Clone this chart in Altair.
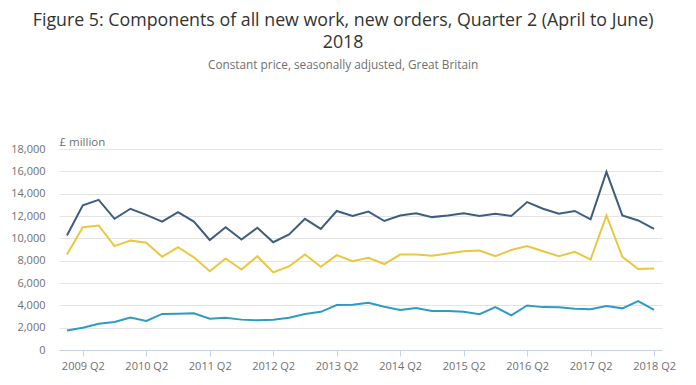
import altair as alt
import pandas as pd

quarters = [f"{y} Q{q}" for y in range(2009, 2019) for q in range(1, 5)][:38]
tick_labels = ["2009 Q2", "2010 Q2", "2011 Q2", "2012 Q2", "2013 Q2",
               "2014 Q2", "2015 Q2", "2016 Q2", "2017 Q2", "2018 Q2"]

all_new_work = [10250, 12950, 13450, 11750, 12650, 12100, 11500, 12350, 11500, 9850,
                11000, 9900, 10950, 9650, 10350, 11750, 10850, 12450, 12000, 12400,
                11550, 12050, 12250, 11900, 12050, 12250, 12000, 12200, 12000, 13250,
                12650, 12200, 12450, 11700, 15950, 12050, 11600, 10850]
other_new_work = [8550, 11000, 11150, 9300, 9800, 9600, 8350, 9200, 8300, 7050,
                  8200, 7200, 8400, 6950, 7500, 8550, 7450, 8500, 7950, 8250,
                  7700, 8550, 8550, 8450, 8650, 8850, 8900, 8400, 8950, 9300,
                  8850, 8400, 8800, 8100, 12050, 8350, 7250, 7300]
infrastructure = [1750, 2000, 2350, 2500, 2900, 2600, 3230, 3250, 3280, 2800,
                  2880, 2720, 2660, 2710, 2880, 3230, 3420, 4020, 4050, 4230,
                  3880, 3580, 3760, 3500, 3500, 3430, 3200, 3840, 3100, 3990,
                  3840, 3820, 3700, 3640, 3930, 3730, 4370, 3600]

series = ["All new work", "Other new work", "Infrastructure"]
colors = ["#3e5d7f", "#ebc73f", "#2e9bc2"]

rows = []
for name, vals in zip(series, [all_new_work, other_new_work, infrastructure]):
    for q, v in zip(quarters, vals):
        rows.append({"quarter": q, "value": v, "series": name})
df = pd.DataFrame(rows)

chart = alt.Chart(df).mark_line(strokeWidth=2).encode(
    x=alt.X("quarter:O", sort=quarters,
            scale=alt.Scale(type="point", padding=0.5),
            axis=alt.Axis(title=None, values=tick_labels, labelAngle=0,
                          domainColor="#c6d3ef", tickColor="#c6d3ef", tickSize=6,
                          labelColor="#707070", labelFontSize=11, labelPadding=4,
                          labelFont="Open Sans", grid=False)),
    y=alt.Y("value:Q", scale=alt.Scale(domain=[0, 18000]),
            axis=alt.Axis(title="£ million", titleAngle=0, titleAlign="left",
                          titleBaseline="bottom", titleX=0, titleY=-2,
                          titleColor="#707070", titleFontSize=11.5,
                          titleFontWeight="normal", titleFont="Open Sans",
                          values=list(range(0, 18001, 2000)), format=",d",
                          labelColor="#707070", labelFontSize=11,
                          labelFont="Open Sans", labelPadding=14,
                          domain=False, ticks=False, gridColor="#e4e4e4")),
    color=alt.Color("series:N", sort=series,
                    scale=alt.Scale(domain=series, range=colors), legend=None),
).properties(
    width=603, height=201,
    title=alt.TitleParams(
        text=["Figure 5: Components of all new work, new orders, Quarter 2 (April to June)", "2018"],
        subtitle="Constant price, seasonally adjusted, Great Britain",
        font="Open Sans", fontSize=17.8, fontWeight="normal", color="#333333",
        lineHeight=22.5, subtitleFont="Open Sans", subtitleFontSize=11.8,
        subtitleColor="#707070", subtitlePadding=8, offset=64, anchor="middle",
        frame="bounds"),
    padding={"left": 2, "top": 3, "right": 5, "bottom": 5},
).configure_view(stroke=None)

chart.save("out.html", embed_options={"renderer": "svg", "actions": False})
